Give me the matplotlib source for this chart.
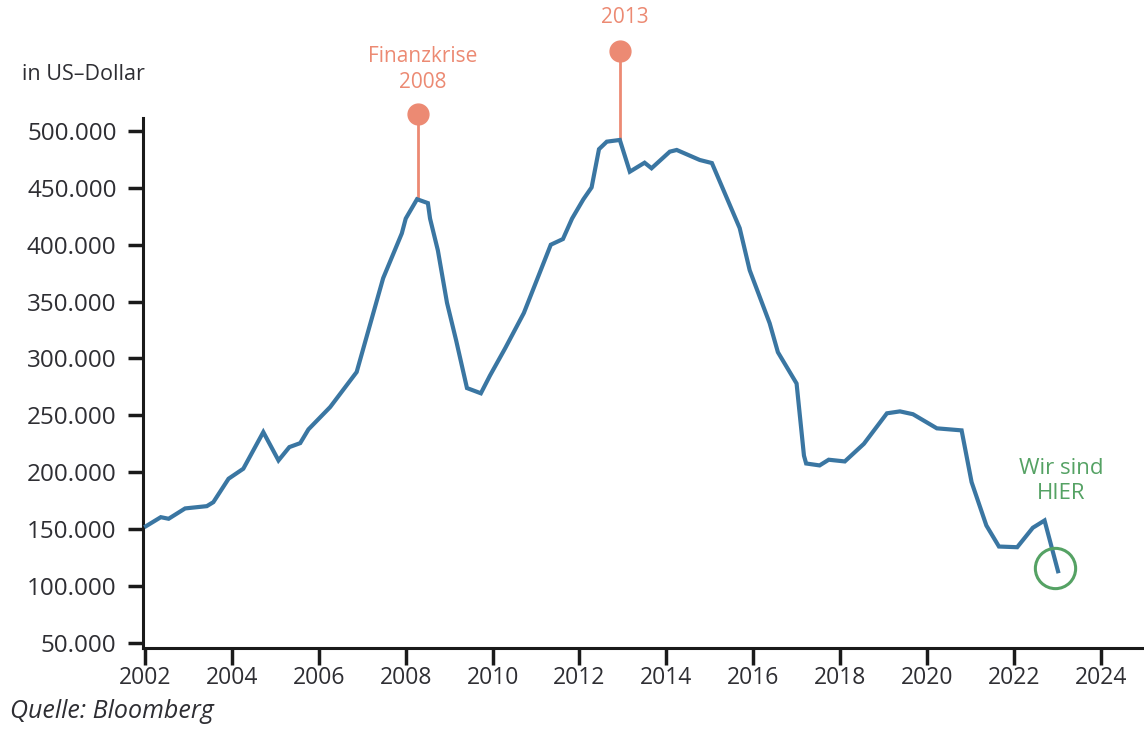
import matplotlib.pyplot as plt
from matplotlib.ticker import FuncFormatter

# Werte
years = [2002.02, 2002.36, 2002.54, 2002.92, 2003.42, 2003.57, 2003.92, 2004.26,
         2004.72, 2005.07, 2005.32, 2005.57, 2005.76, 2006.26, 2006.87, 2007.48,
         2007.91, 2008.0, 2008.26, 2008.51, 2008.56, 2008.74, 2008.95, 2009.16,
         2009.41, 2009.73, 2009.94, 2010.29, 2010.72, 2011.34, 2011.62, 2011.83,
         2012.09, 2012.28, 2012.45, 2012.63, 2012.93, 2013.16, 2013.50, 2013.66,
         2014.08, 2014.24, 2014.77, 2015.05, 2015.69, 2015.92, 2016.38, 2016.57,
         2017.0, 2017.17, 2017.22, 2017.53, 2017.74, 2018.11, 2018.55, 2019.08,
         2019.38, 2019.68, 2020.23, 2020.80, 2021.03, 2021.37, 2021.66, 2022.08,
         2022.44, 2022.71, 2023.02]
price = [152600, 160500, 159100, 168200, 170200, 173700, 194300, 203100,
         235300, 210400, 222100, 225600, 237700, 257300, 288100, 370600,
         410000, 423000, 440000, 436600, 423000, 395000, 349000, 316000,
         274000, 269400, 285000, 309000, 340000, 400000, 405000, 423000,
         439900, 450400, 484000, 490600, 492100, 464200, 472100, 467200,
         481800, 483300, 474500, 471800, 414600, 377600, 331000, 305500,
         278000, 214600, 207700, 206000, 211000, 209500, 225000, 251800,
         253500, 251000, 238600, 236800, 191300, 153200, 134700, 134100,
         151200, 157600, 113000]

# Markierungen
events = ["Finanzkrise\n2008", "2013"]
event_x = [2008.28, 2012.93]
event_base = [440000, 492100]
event_pin = [515000, 570000]
event_label_y = [554000, 600000]

now_x, now_y = 2022.94, 116000
x_ticks = list(range(2002, 2025, 2))
y_ticks = list(range(50000, 500001, 50000))

line_col = '#3a76a2'
salmon = '#ec8a73'
green = '#55a264'
text_col = '#2e2e33'

plt.rcParams['font.family'] = ['Open Sans', 'DejaVu Sans']

fig = plt.figure(figsize=(11.44, 7.29), dpi=100)
ax = fig.add_axes([143 / 1144, 1 - 648 / 729, 1 - 143 / 1144, (648 - 118) / 729])

ax.plot(years, price, color=line_col, linewidth=3, solid_joinstyle='miter', zorder=3)

for lbl, x, b, p, ly in zip(events, event_x, event_base, event_pin, event_label_y):
    ax.plot([x, x], [b, p], color=salmon, linewidth=2, clip_on=False, zorder=2)
    ax.plot([x], [p], 'o', color=salmon, markersize=15, clip_on=False, zorder=4)
    ax.text(x + 0.12, ly, lbl, color=salmon, fontsize=15, ha='center', va='center',
            linespacing=1.35, clip_on=False)

ax.plot([now_x], [now_y], 'o', markersize=29, markerfacecolor='none',
        markeredgecolor=green, markeredgewidth=2.2, zorder=4)
ax.text(2023.1, 192000, "Wir sind\nHIER", color=green, fontsize=16,
        ha='center', va='center', linespacing=1.25)

ax.set_xlim(2001.95, 2025.0)
ax.set_ylim(45500, 511400)
ax.set_xticks(x_ticks)
ax.set_yticks(y_ticks)
ax.yaxis.set_major_formatter(FuncFormatter(lambda v, p: f"{int(v):,}".replace(',', '.')))

for s in ['top', 'right']:
    ax.spines[s].set_visible(False)
for s in ['left', 'bottom']:
    ax.spines[s].set_color('#1a1a1a')
    ax.spines[s].set_linewidth(2.2)

ax.tick_params(axis='y', direction='out', length=11, width=2.5, color='#1a1a1a',
               labelsize=17.5, labelcolor=text_col, pad=8)
ax.xaxis.set_tick_params(which='major', direction='out', length=12, width=2.5,
                         color='#1a1a1a', labelsize=16.5, labelcolor=text_col, pad=1)

fig.text(22 / 1144, 1 - 74 / 729, "in US\u2013Dollar", fontsize=15.5, color=text_col,
         va='center', ha='left')
fig.text(10 / 1144, 1 - 712 / 729, "Quelle: Bloomberg", fontsize=18, color=text_col,
         style='italic', va='center', ha='left')

fig.savefig('out.png', dpi=100)
